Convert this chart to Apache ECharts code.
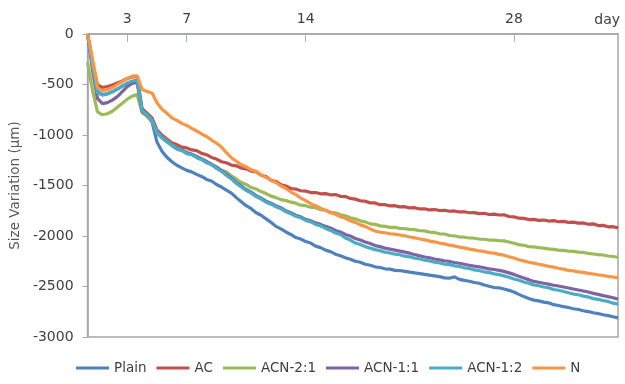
<!DOCTYPE html>
<html>
<head>
<meta charset="utf-8">
<script src="https://cdn.jsdelivr.net/npm/echarts@6/dist/echarts.min.js"></script>
<style>
  html, body { margin: 0; padding: 0; background: #fff; }
  #chart { width: 625px; height: 384px; }
</style>
</head>
<body>
<div id="chart"></div>
<script>
// x axis: 108 evenly spaced samples, labelled only on some days
var tickIdx = [8, 20, 44, 86];
var tickText = ['3', '7', '14', '28'];
var seriesNames = ['Plain', 'AC', 'ACN-2:1', 'ACN-1:1', 'ACN-1:2', 'N'];
var colors = ['#4F81BD', '#C0504D', '#9BBB59', '#8064A2', '#4BACC6', '#F79646'];

var plain = [0, -300, -570, -600, -590, -570, -545, -515, -495, -478,
  -470, -760, -815, -870, -1070, -1160, -1220, -1265, -1300, -1325,
  -1350, -1365, -1390, -1410, -1440, -1455, -1490, -1515, -1545, -1575,
  -1620, -1660, -1700, -1730, -1770, -1795, -1830, -1865, -1905, -1930,
  -1960, -1985, -2015, -2030, -2055, -2070, -2100, -2115, -2140, -2155,
  -2180, -2195, -2215, -2230, -2250, -2260, -2280, -2290, -2305, -2312,
  -2325, -2328, -2340, -2342, -2350, -2358, -2365, -2372, -2380, -2388,
  -2395, -2402, -2415, -2418, -2405, -2430, -2440, -2448, -2460, -2468,
  -2485, -2498, -2510, -2513, -2525, -2538, -2555, -2578, -2600, -2618,
  -2635, -2642, -2655, -2662, -2680, -2688, -2700, -2708, -2720, -2728,
  -2740, -2748, -2760, -2768, -2780, -2788, -2800, -2810];

var ac = [0, -280, -505, -530, -520, -505, -485, -465, -440, -425,
  -420, -740, -785, -830, -950, -1000, -1040, -1078, -1095, -1120,
  -1128, -1148, -1155, -1182, -1195, -1222, -1238, -1265, -1275, -1298,
  -1305, -1328, -1335, -1358, -1365, -1398, -1412, -1448, -1460, -1492,
  -1505, -1530, -1535, -1552, -1555, -1570, -1570, -1582, -1580, -1592,
  -1590, -1607, -1610, -1628, -1635, -1652, -1655, -1672, -1673, -1690,
  -1690, -1702, -1700, -1712, -1710, -1722, -1720, -1732, -1730, -1742,
  -1738, -1748, -1745, -1755, -1752, -1762, -1760, -1770, -1768, -1778,
  -1775, -1787, -1783, -1792, -1790, -1807, -1810, -1824, -1825, -1837,
  -1835, -1845, -1842, -1852, -1848, -1859, -1855, -1865, -1862, -1872,
  -1871, -1884, -1880, -1897, -1895, -1909, -1908, -1920];

var acn21 = [-280, -560, -770, -800, -790, -765, -725, -685, -645, -615,
  -600, -780, -815, -860, -970, -1015, -1055, -1095, -1125, -1150,
  -1170, -1190, -1210, -1235, -1260, -1290, -1315, -1350, -1365, -1405,
  -1435, -1470, -1490, -1520, -1535, -1560, -1580, -1605, -1620, -1640,
  -1650, -1665, -1675, -1695, -1700, -1715, -1720, -1740, -1745, -1765,
  -1770, -1790, -1800, -1820, -1830, -1850, -1860, -1880, -1885, -1900,
  -1905, -1915, -1915, -1925, -1927, -1935, -1937, -1948, -1950, -1962,
  -1965, -1978, -1980, -1995, -1998, -2010, -2012, -2020, -2022, -2030,
  -2032, -2040, -2040, -2045, -2048, -2060, -2072, -2085, -2092, -2105,
  -2108, -2115, -2120, -2128, -2132, -2140, -2143, -2150, -2153, -2160,
  -2163, -2172, -2178, -2185, -2188, -2198, -2203, -2210];

var acn11 = [0, -360, -640, -690, -680, -655, -620, -570, -520, -490,
  -480, -770, -805, -845, -975, -1020, -1060, -1100, -1130, -1150,
  -1175, -1190, -1215, -1240, -1265, -1290, -1320, -1350, -1390, -1425,
  -1470, -1505, -1540, -1565, -1600, -1625, -1655, -1675, -1700, -1720,
  -1750, -1770, -1795, -1810, -1835, -1850, -1870, -1885, -1905, -1920,
  -1945, -1960, -1985, -2000, -2025, -2040, -2060, -2075, -2095, -2105,
  -2120, -2130, -2140, -2150, -2160, -2170, -2185, -2195, -2208, -2215,
  -2228, -2236, -2245, -2252, -2262, -2270, -2280, -2290, -2298, -2305,
  -2315, -2325, -2332, -2340, -2350, -2365, -2380, -2398, -2415, -2432,
  -2450, -2458, -2468, -2476, -2488, -2495, -2505, -2515, -2525, -2535,
  -2545, -2555, -2568, -2578, -2590, -2600, -2612, -2625];

var acn12 = [0, -320, -580, -605, -595, -575, -545, -515, -485, -465,
  -455, -760, -800, -850, -980, -1030, -1070, -1105, -1140, -1155,
  -1185, -1195, -1225, -1245, -1275, -1295, -1330, -1360, -1400, -1435,
  -1480, -1515, -1550, -1575, -1610, -1635, -1665, -1685, -1710, -1730,
  -1760, -1780, -1805, -1820, -1845, -1860, -1885, -1900, -1925, -1945,
  -1970, -1985, -2020, -2040, -2070, -2085, -2105, -2120, -2135, -2145,
  -2160, -2168, -2180, -2186, -2200, -2206, -2220, -2226, -2240, -2246,
  -2260, -2266, -2278, -2284, -2295, -2302, -2315, -2322, -2335, -2342,
  -2355, -2362, -2375, -2382, -2395, -2408, -2425, -2438, -2455, -2468,
  -2485, -2492, -2505, -2512, -2530, -2537, -2550, -2562, -2575, -2582,
  -2595, -2603, -2620, -2627, -2640, -2648, -2665, -2675];

var nData = [0, -250, -530, -560, -550, -530, -500, -470, -440, -418,
  -415, -550, -570, -585, -680, -745, -785, -830, -855, -885,
  -905, -935, -960, -990, -1015, -1050, -1080, -1120, -1175, -1225,
  -1260, -1295, -1315, -1345, -1360, -1395, -1420, -1450, -1470, -1505,
  -1530, -1565, -1590, -1625, -1650, -1680, -1700, -1725, -1745, -1770,
  -1785, -1810, -1825, -1850, -1865, -1890, -1905, -1930, -1950, -1962,
  -1968, -1978, -1982, -1990, -1998, -2010, -2018, -2030, -2038, -2050,
  -2058, -2070, -2078, -2090, -2098, -2110, -2118, -2130, -2138, -2148,
  -2153, -2165, -2170, -2182, -2190, -2205, -2218, -2235, -2246, -2260,
  -2268, -2280, -2288, -2300, -2308, -2320, -2328, -2340, -2346, -2355,
  -2360, -2370, -2376, -2385, -2391, -2400, -2406, -2415];

var allData = [plain, ac, acn21, acn11, acn12, nData];

var categories = [];
for (var i = 0; i < plain.length; i++) {
  var k = tickIdx.indexOf(i);
  categories.push(k >= 0 ? tickText[k] : '');
}
function isTick(idx) { return tickIdx.indexOf(idx) >= 0; }

var font = 'DejaVu Sans';
var myChart = echarts.init(document.getElementById('chart'));

var option = {
  animation: false,
  color: colors,
  grid: {
    left: 83, right: 7, top: 34, bottom: 47,
    show: true, borderColor: '#a6a6a6', borderWidth: 1.5
  },
  legend: {
    data: seriesNames,
    left: 71, top: 356,
    icon: 'rect',
    itemWidth: 33, itemHeight: 3, itemGap: 10,
    textStyle: { fontFamily: font, fontSize: 13.5, color: '#404040' }
  },
  xAxis: {
    type: 'category',
    position: 'top',
    boundaryGap: false,
    data: categories,
    name: 'day',
    nameLocation: 'end',
    nameGap: 2,
    nameTextStyle: { fontFamily: font, fontSize: 14, color: '#404040', align: 'right', verticalAlign: 'bottom', padding: [0, 0, 7, 0] },
    axisLine: { lineStyle: { color: '#a6a6a6', width: 1.5 } },
    axisTick: { inside: true, length: 8, interval: function (idx) { return isTick(idx); }, lineStyle: { color: '#9db3c8' } },
    axisLabel: { interval: function (idx) { return isTick(idx); }, margin: 8, fontFamily: font, fontSize: 14, color: '#404040' },
    splitLine: { show: false }
  },
  yAxis: {
    type: 'value',
    min: -3000, max: 0, interval: 500,
    name: 'Size Variation (\u03bcm)',
    nameLocation: 'middle',
    nameRotate: 90,
    nameGap: 58,
    nameTextStyle: { fontFamily: font, fontSize: 13.5, color: '#595959' },
    axisLine: { show: true, lineStyle: { color: '#a6a6a6', width: 1.5 } },
    axisTick: { show: true, length: 5, lineStyle: { color: '#a6a6a6' } },
    axisLabel: {
      margin: 14, fontFamily: font, fontSize: 14, color: '#404040',
      formatter: function (v) { return String(v); }
    },
    splitLine: { show: false }
  },
  series: seriesNames.map(function (name, s) {
    return {
      name: name,
      type: 'line',
      data: allData[s],
      symbol: 'none',
      lineStyle: { width: 3.2 }
    };
  })
};

myChart.setOption(option);
</script>
</body>
</html>
